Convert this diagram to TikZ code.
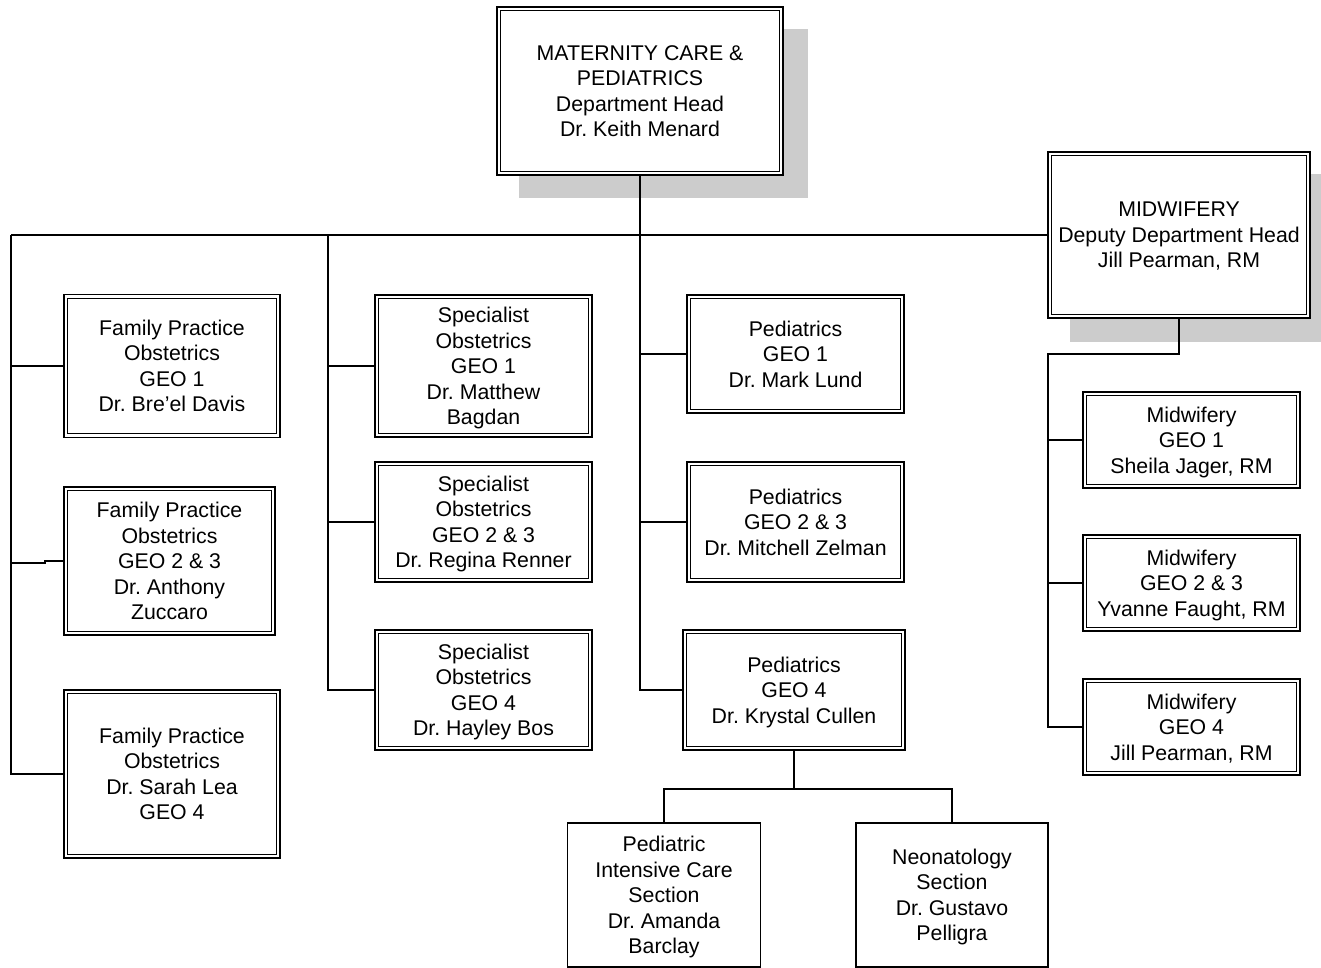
\documentclass[tikz,border=0pt]{standalone}
\usepackage{fontspec}
\setmainfont{Liberation Sans}
\begin{document}
\frenchspacing
\begin{tikzpicture}[x=1pt,y=-1pt,
  box/.style={draw, line width=1.8pt, fill=white, inner sep=0pt, align=center,
    font=\fontsize{21.3}{25.5}\selectfont, text depth=-1.5pt},
  sbox/.style={box, line width=1.6pt},
  conn/.style={draw, line width=1.6pt},
  shadowfill/.style={fill=black!20, draw=none}]
\useasboundingbox[fill=white] (0,0) rectangle (1321,968);
% shadows
\fill[shadowfill] (519,29) rectangle (808,198);
\fill[shadowfill] (1070,174) rectangle (1332,342);
% boxes
\node[box, minimum width=286, minimum height=168] (top) at (640,91)
  {MATERNITY CARE \&\\PEDIATRICS\\Department Head\\Dr. Keith Menard};
\node[box, minimum width=262, minimum height=166] (mid) at (1179,235)
  {MIDWIFERY\\Deputy Department Head\\Jill Pearman, RM};
\node[box, minimum width=216, minimum height=143] (fp1) at (172,366)
  {Family Practice\\Obstetrics\\GEO 1\\Dr. Bre’el Davis};
\node[box, minimum width=211, minimum height=148] (fp2) at (169.5,561)
  {Family Practice\\Obstetrics\\GEO 2 \& 3\\Dr. Anthony\\Zuccaro};
\node[box, minimum width=216, minimum height=168] (fp3) at (172,774)
  {Family Practice\\Obstetrics\\Dr. Sarah Lea\\GEO 4};
\node[box, minimum width=217, minimum height=142] (sp1) at (483.5,366)
  {Specialist\\Obstetrics\\GEO 1\\Dr. Matthew\\Bagdan};
\node[box, minimum width=217, minimum height=120] (sp2) at (483.5,522)
  {Specialist\\Obstetrics\\GEO 2 \& 3\\Dr. Regina Renner};
\node[box, minimum width=217, minimum height=120] (sp3) at (483.5,690)
  {Specialist\\Obstetrics\\GEO 4\\Dr. Hayley Bos};
\node[box, minimum width=217, minimum height=118] (ped1) at (795.5,354)
  {Pediatrics\\GEO 1\\Dr. Mark Lund};
\node[box, minimum width=217, minimum height=120] (ped2) at (795.5,522)
  {Pediatrics\\GEO 2 \& 3\\Dr. Mitchell Zelman};
\node[box, minimum width=222, minimum height=120] (ped3) at (794,690)
  {Pediatrics\\GEO 4\\Dr. Krystal Cullen};
\node[box, minimum width=217, minimum height=96] (mw1) at (1191.5,440)
  {Midwifery\\GEO 1\\Sheila Jager, RM};
\node[box, minimum width=217, minimum height=96] (mw2) at (1191.5,583)
  {Midwifery\\GEO 2 \& 3\\Yvanne Faught, RM};
\node[box, minimum width=217, minimum height=96] (mw3) at (1191.5,727)
  {Midwifery\\GEO 4\\Jill Pearman, RM};
\node[sbox, minimum width=193, minimum height=144] (picu) at (664,895)
  {Pediatric\\Intensive Care\\Section\\Dr. Amanda\\Barclay};
\node[sbox, minimum width=192, minimum height=144] (neo) at (952,895)
  {Neonatology\\Section\\Dr. Gustavo\\Pelligra};
% inner lines of double borders
\foreach \n in {top,mid,fp1,fp2,fp3,sp1,sp2,sp3,ped1,ped2,ped3,mw1,mw2,mw3}
  \draw[line width=0.9pt] ([shift={(4.5,4.5)}]\n.north west) rectangle ([shift={(-4.5,-4.5)}]\n.south east);
% connectors
\coordinate (busL) at (11,235);
\coordinate (busS) at (328,235);
\coordinate (mwT) at (1048,354);
\draw[conn] (top.south) -- (top.south |- ped3.west) -- (ped3.west);
\draw[conn] (top.south |- ped1.west) -- (ped1.west);
\draw[conn] (top.south |- ped2.west) -- (ped2.west);
\draw[conn] (busL) -- (mid.west);
\draw[conn] (busL) |- (fp3.west);
\draw[conn] (busL |- fp1.west) -- (fp1.west);
\draw[conn] (fp2.west) -- ++(-18,0) -- ++(0,2) -- ++(-35.5,0);
\draw[conn] (busS) |- (sp3.west);
\draw[conn] (busS |- sp1.west) -- (sp1.west);
\draw[conn] (busS |- sp2.west) -- (sp2.west);
\draw[conn] (mid.south) |- (mwT) |- (mw3.west);
\draw[conn] (mwT |- mw1.west) -- (mw1.west);
\draw[conn] (mwT |- mw2.west) -- (mw2.west);
\draw[conn] (ped3.south) -- ++(0,38) coordinate (pj);
\draw[conn] (picu.north) |- (pj) -| (neo.north);
\end{tikzpicture}
\end{document}
